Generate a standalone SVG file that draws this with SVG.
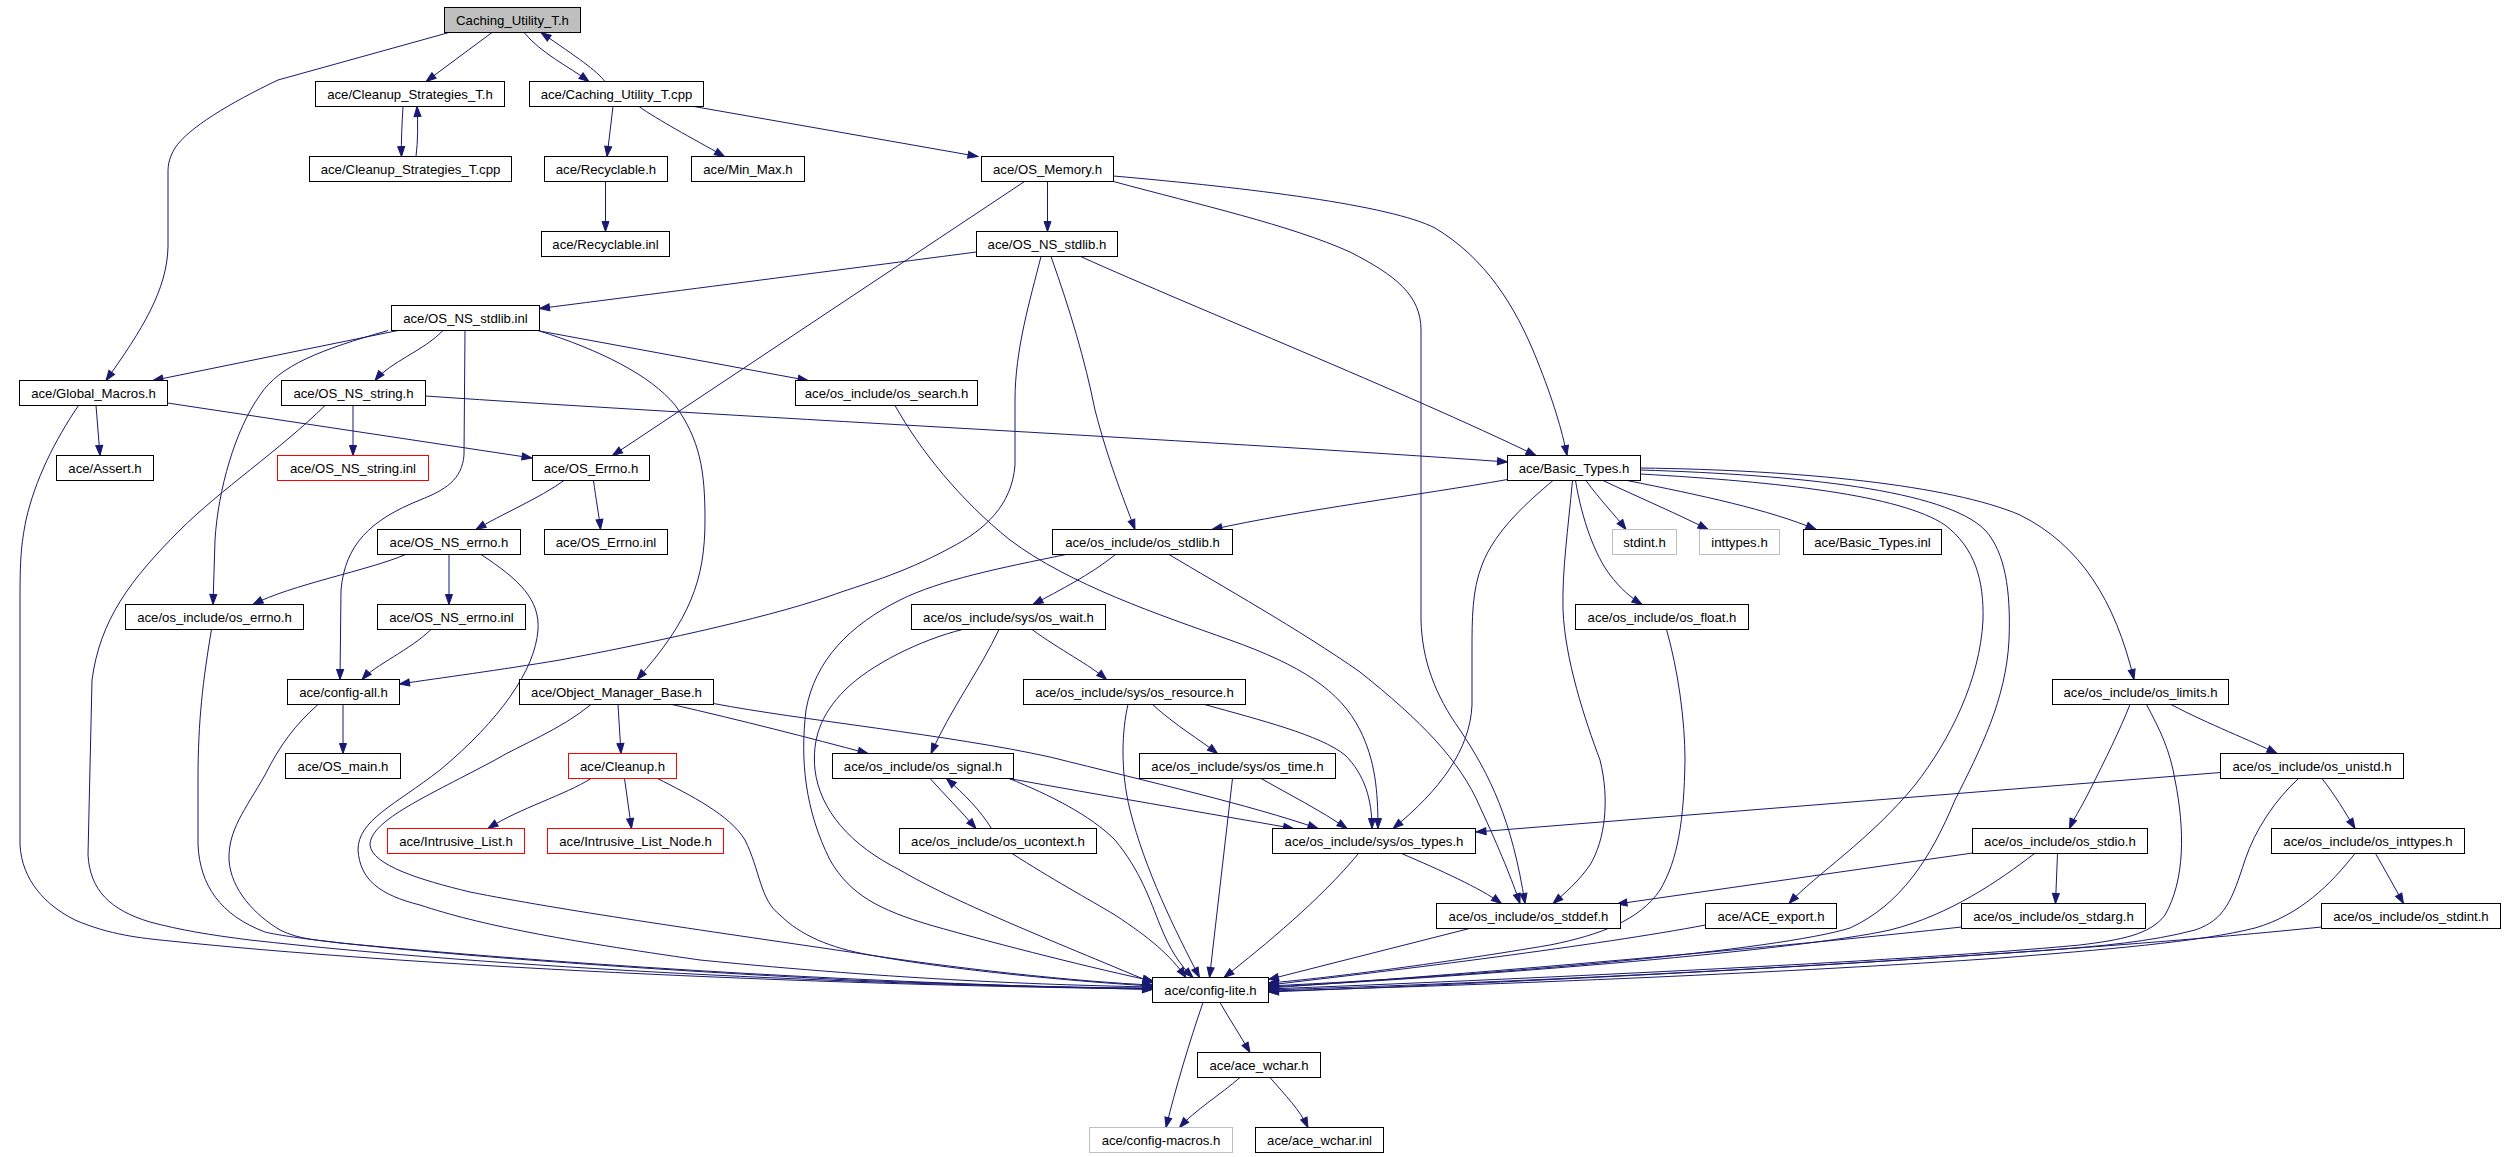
<svg xmlns="http://www.w3.org/2000/svg" width="2505" height="1157" viewBox="0 0 2505 1157">
<defs>
<style>
.node rect{fill:#ffffff;stroke:#000000;stroke-width:1}
.node.root rect{fill:#bfbfbf}
.node.red rect{stroke:#ff0000}
.node.gray rect{stroke:#bfbfbf}
.node text{font-family:"Liberation Sans",Arial,sans-serif;font-size:13.2px;text-anchor:middle;fill:#000000}
#edges path{fill:none;stroke:#191970;stroke-width:1;marker-end:url(#ah)}
</style>
<marker id="ah" viewBox="0 0 10 7" refX="10" refY="3.5" markerWidth="10" markerHeight="7" markerUnits="userSpaceOnUse" orient="auto" overflow="visible">
<path d="M0,0 L10,3.5 L0,7 z" fill="#191970" stroke="#191970" stroke-width="1"/>
</marker>
</defs>
<rect x="0" y="0" width="2505" height="1157" fill="#ffffff"/>
<g id="edges">
<path d="M449,32.5 L278,80 C230,103 188,128 175,148 C169,158 168,165 168,172 L168,247 C167,290 142,330 106,380.5"/>
<path d="M492,32.5 L426,81.5"/>
<path d="M524,32.5 C542,54 568,66 589,81.5"/>
<path d="M605,81.5 C596,70 578,58 541,32.5"/>
<path d="M403,106.5 C402,125 401,140 401.5,156.5"/>
<path d="M416,156.5 C418,140 418,125 417,106.5"/>
<path d="M613,106.5 L607,156.5"/>
<path d="M639,106.5 C658,120 690,137 724.5,156.5"/>
<path d="M694,106.5 L978,156.5"/>
<path d="M605.5,181.5 L605.5,231.5"/>
<path d="M1047.5,181.5 L1047.5,231.5"/>
<path d="M1024.5,181.5 L612.5,455.5"/>
<path d="M1113.5,181.5 C1200,205 1290,225 1350,252 C1395,275 1421,295 1421,330 L1421,620 C1422,660 1435,695 1460,730 C1490,775 1512,820 1525,903.5"/>
<path d="M1113.5,176 C1250,188 1390,205 1435,228 C1485,258 1515,305 1537,360 C1553,400 1562,430 1567,455.5"/>
<path d="M976.5,252 C900,262 700,288 539.5,308.5"/>
<path d="M1041,256.5 C1030,300 1015,350 1015,400 L1015,465 C1012,505 985,530 950,548 C900,575 860,585 830,596 C760,620 640,645 560,660 C500,670 440,678 399.5,684"/>
<path d="M1051,256.5 C1070,310 1085,360 1095,410 C1108,460 1122,495 1135,529.5"/>
<path d="M1080.5,256.5 C1200,310 1400,390 1536,455.5"/>
<path d="M398,330.5 L153,380.5"/>
<path d="M443,330.5 C425,350 390,362 375,380.5"/>
<path d="M388,330.5 C320,350 280,365 260,395 C235,430 218,490 215,540 L213,604.5"/>
<path d="M465,330.5 L464,455 C462,480 445,490 420,500 C370,520 345,545 341,590 L340,679.5"/>
<path d="M538,330.5 C600,350 650,375 675,405 C700,440 705,470 705,520 C705,580 690,620 637,679.5"/>
<path d="M539.5,331 L808,380.5"/>
<path d="M96,405.5 L100,455.5"/>
<path d="M167.5,403 L532,458"/>
<path d="M78.5,405.5 C55,440 35,480 26,520 C21,545 20,560 20,600 L20,845 C22,880 45,905 75,920 C110,935 140,938 170,941 C400,965 800,985 1152.5,989"/>
<path d="M353,405.5 L353,455.5"/>
<path d="M425.5,396 C700,415 1200,440 1507.5,462"/>
<path d="M325,405.5 C280,450 220,490 180,530 C130,580 100,620 92,680 L88,855 C90,890 110,910 150,922 C180,930 210,935 250,940 C500,968 850,985 1152.5,988.5"/>
<path d="M564,480.5 C540,498 500,515 476,529.5"/>
<path d="M593.5,480.5 C596,500 599,515 600.5,529.5"/>
<path d="M405.5,554.5 C370,570 290,585 253,604.5"/>
<path d="M449,554.5 L449,604.5"/>
<path d="M481,554.5 C520,580 540,600 538,630 C535,670 500,720 440,770 C395,805 358,820 358,850 C360,880 380,895 420,905 C480,925 560,940 700,960 C900,980 1050,985 1152.5,987"/>
<path d="M211.5,629.5 C203,680 198,720 198,780 L198,845 C200,885 220,915 265,932 C300,941 500,962 850,980 C1000,986 1100,988 1152.5,988"/>
<path d="M431,629.5 C410,650 375,665 362,679.5"/>
<path d="M343,704.5 L343,753.5"/>
<path d="M318,704.5 C295,725 280,745 265,775 C245,810 228,830 229,860 C231,890 255,915 280,930 C300,940 320,940 340,943 C600,968 900,984 1152.5,989.5"/>
<path d="M618,704.5 L621,753.5"/>
<path d="M672,704.5 C740,720 810,738 868,753.5"/>
<path d="M713.5,703.5 C800,720 950,735 1050,757 C1150,782 1250,805 1318,828.5"/>
<path d="M591,704.5 C560,730 520,745 495,760 C430,795 370,820 370,845 C372,865 420,880 470,892 C560,910 700,930 850,952 C950,968 1080,982 1152.5,985"/>
<path d="M591,778.5 C565,795 520,808 488,828.5"/>
<path d="M624.5,778.5 L631.5,828.5"/>
<path d="M657.5,778.5 C690,795 730,815 745,840 C760,870 760,900 780,915 C800,935 830,948 870,955 C950,970 1080,982 1152.5,986"/>
<path d="M895,405.5 C920,450 960,500 1010,540 C1070,585 1160,615 1230,640 C1300,665 1340,690 1360,730 C1375,760 1378,790 1378,828.5"/>
<path d="M1507.5,479.5 C1420,495 1300,510 1212,529.5"/>
<path d="M1553,480.5 C1530,500 1495,530 1482,565 C1472,590 1472,620 1472,650 L1472,705 C1470,750 1440,790 1393,828.5"/>
<path d="M1572.5,480.5 C1568,530 1562,570 1563,610 C1565,660 1585,720 1600,760 C1610,800 1605,840 1590,865 C1578,882 1565,893 1553,903.5"/>
<path d="M1575.5,480.5 C1582,520 1595,555 1610,575 C1620,588 1630,597 1642,604.5"/>
<path d="M1586,480.5 C1600,500 1615,515 1626,529.5"/>
<path d="M1603,480.5 C1640,498 1680,515 1708,529.5"/>
<path d="M1627,480.5 C1700,495 1770,510 1816,529.5"/>
<path d="M1640.5,468 C1800,470 1950,485 2020,515 C2080,545 2115,600 2134,679.5"/>
<path d="M1640.5,474 C1780,482 1900,495 1945,525 C1975,548 1984,580 1983,620 C1980,680 1950,740 1915,785 C1870,840 1815,875 1789,903.5"/>
<path d="M1640.5,470 C1800,475 1945,490 1985,530 C2005,552 2011,590 2009,640 C2006,700 1980,750 1955,800 C1930,860 1900,905 1850,928 C1780,950 1500,975 1268.5,986"/>
<path d="M1115.5,554.5 C1090,575 1060,590 1033,604.5"/>
<path d="M1066,554.5 C1000,568 940,580 900,600 C850,625 815,660 806,710 C800,760 805,810 830,860 C850,895 880,910 930,925 C1000,945 1100,970 1153,981"/>
<path d="M962.5,629.5 C920,640 870,665 845,690 C820,715 812,740 815,770 C820,810 850,845 900,870 C950,900 1050,940 1153,983"/>
<path d="M999,629.5 C980,670 950,710 931,753.5"/>
<path d="M1032,629.5 C1060,650 1090,665 1106.5,679.5"/>
<path d="M1152.5,704.5 C1175,725 1200,740 1217.5,753.5"/>
<path d="M1204.5,704.5 C1260,720 1320,735 1345,755 C1365,775 1372,800 1372,828.5"/>
<path d="M1128,704.5 C1122,730 1120,770 1130,810 C1145,870 1175,930 1199.5,977.5"/>
<path d="M930,778.5 C945,795 960,810 976,828.5"/>
<path d="M991.5,828.5 C980,810 965,795 946.5,778.5"/>
<path d="M1009,778.5 C1100,795 1200,812 1293.5,828.5"/>
<path d="M1009,778.5 C1050,795 1090,815 1115,840 C1140,870 1150,900 1160,925 C1170,950 1180,965 1193,977.5"/>
<path d="M1261,778.5 C1290,795 1320,810 1347,828.5"/>
<path d="M1232.5,778.5 L1209.5,977.5"/>
<path d="M1012,853.5 C1050,878 1090,900 1115,915 C1150,938 1170,955 1186,977.5"/>
<path d="M1401.5,853.5 C1440,870 1480,888 1501.5,903.5"/>
<path d="M1358.5,853.5 C1320,900 1265,945 1224,977.5"/>
<path d="M1169,554.5 C1220,585 1300,630 1360,672 C1420,720 1460,760 1480,807 C1500,850 1512,880 1520,903.5"/>
<path d="M1469.5,928.5 L1268.5,979.5"/>
<path d="M1666.5,629.5 C1678,670 1685,720 1685,760 C1684,820 1678,860 1660,890 C1640,920 1600,935 1550,945 C1450,962 1330,978 1268.5,983"/>
<path d="M2171,704.5 C2210,725 2250,740 2277,753.5"/>
<path d="M2130,704.5 C2120,730 2105,760 2090,790 C2080,810 2073,820 2069.5,828.5"/>
<path d="M2146.5,704.5 C2160,730 2170,750 2175,780 C2185,830 2185,880 2165,915 C2150,935 2120,940 2080,945 C1900,962 1500,980 1268.5,989"/>
<path d="M2220.5,772.5 L1476,832"/>
<path d="M2322,778.5 C2335,795 2345,812 2355,828.5"/>
<path d="M2298.5,778.5 C2275,800 2255,830 2245,860 C2232,900 2225,920 2195,930 C2150,942 2100,946 2050,950 C1800,968 1500,983 1268.5,990"/>
<path d="M1972.5,853 L1617,904"/>
<path d="M2057.5,853.5 L2055.5,903.5"/>
<path d="M2034.5,853.5 C2000,880 1950,915 1890,930 C1800,950 1500,975 1268.5,987"/>
<path d="M2375.5,853.5 C2385,870 2395,888 2403.5,903.5"/>
<path d="M2355,853.5 C2330,885 2300,915 2255,928 C2200,942 2100,950 2000,958 C1800,972 1500,985 1268.5,991"/>
<path d="M1705.5,925 C1600,945 1400,970 1268.5,985"/>
<path d="M1961.5,927 C1800,945 1500,972 1268.5,988"/>
<path d="M2321.5,927 C2100,950 1700,975 1268.5,992"/>
<path d="M1220,1002.5 C1230,1020 1240,1035 1250,1052.5"/>
<path d="M1203,1002.5 C1190,1040 1175,1090 1166,1127.5"/>
<path d="M1240,1077.5 C1220,1095 1195,1110 1179.5,1127.5"/>
<path d="M1270,1077.5 C1285,1095 1300,1110 1308,1127.5"/>
</g>
<g id="n01" class="node root"><rect x="444.5" y="7.5" width="136" height="25"/><text x="512.5" y="24.5">Caching_Utility_T.h</text></g>
<g id="n02" class="node"><rect x="315.5" y="81.5" width="189" height="25"/><text x="410" y="98.5">ace/Cleanup_Strategies_T.h</text></g>
<g id="n03" class="node"><rect x="529.5" y="81.5" width="174" height="25"/><text x="616.5" y="98.5">ace/Caching_Utility_T.cpp</text></g>
<g id="n04" class="node"><rect x="309.5" y="156.5" width="202" height="25"/><text x="410.5" y="173.5">ace/Cleanup_Strategies_T.cpp</text></g>
<g id="n05" class="node"><rect x="544.5" y="156.5" width="123" height="25"/><text x="606" y="173.5">ace/Recyclable.h</text></g>
<g id="n06" class="node"><rect x="691.5" y="156.5" width="113" height="25"/><text x="748" y="173.5">ace/Min_Max.h</text></g>
<g id="n07" class="node"><rect x="981.5" y="156.5" width="132" height="25"/><text x="1047.5" y="173.5">ace/OS_Memory.h</text></g>
<g id="n08" class="node"><rect x="541.5" y="231.5" width="128" height="25"/><text x="605.5" y="248.5">ace/Recyclable.inl</text></g>
<g id="n09" class="node"><rect x="976.5" y="231.5" width="141" height="25"/><text x="1047" y="248.5">ace/OS_NS_stdlib.h</text></g>
<g id="n10" class="node"><rect x="391.5" y="305.5" width="148" height="25"/><text x="465.5" y="322.5">ace/OS_NS_stdlib.inl</text></g>
<g id="n11" class="node"><rect x="19.5" y="380.5" width="148" height="25"/><text x="93.5" y="397.5">ace/Global_Macros.h</text></g>
<g id="n12" class="node"><rect x="281.5" y="380.5" width="144" height="25"/><text x="353.5" y="397.5">ace/OS_NS_string.h</text></g>
<g id="n13" class="node"><rect x="795.5" y="380.5" width="182" height="25"/><text x="886.5" y="397.5">ace/os_include/os_search.h</text></g>
<g id="n14" class="node"><rect x="1507.5" y="455.5" width="133" height="25"/><text x="1574" y="472.5">ace/Basic_Types.h</text></g>
<g id="n15" class="node"><rect x="56.5" y="455.5" width="97" height="25"/><text x="105" y="472.5">ace/Assert.h</text></g>
<g id="n16" class="node red"><rect x="277.5" y="455.5" width="151" height="25"/><text x="353" y="472.5">ace/OS_NS_string.inl</text></g>
<g id="n17" class="node"><rect x="532.5" y="455.5" width="117" height="25"/><text x="591" y="472.5">ace/OS_Errno.h</text></g>
<g id="n18" class="node"><rect x="377.5" y="529.5" width="143" height="25"/><text x="449" y="546.5">ace/OS_NS_errno.h</text></g>
<g id="n19" class="node"><rect x="544.5" y="529.5" width="123" height="25"/><text x="606" y="546.5">ace/OS_Errno.inl</text></g>
<g id="n20" class="node"><rect x="1052.5" y="529.5" width="180" height="25"/><text x="1142.5" y="546.5">ace/os_include/os_stdlib.h</text></g>
<g id="n21" class="node gray"><rect x="1612.5" y="529.5" width="64" height="25"/><text x="1644.5" y="546.5">stdint.h</text></g>
<g id="n22" class="node gray"><rect x="1699.5" y="529.5" width="80" height="25"/><text x="1739.5" y="546.5">inttypes.h</text></g>
<g id="n23" class="node"><rect x="1803.5" y="529.5" width="138" height="25"/><text x="1872.5" y="546.5">ace/Basic_Types.inl</text></g>
<g id="n24" class="node"><rect x="125.5" y="604.5" width="178" height="25"/><text x="214.5" y="621.5">ace/os_include/os_errno.h</text></g>
<g id="n25" class="node"><rect x="377.5" y="604.5" width="148" height="25"/><text x="451.5" y="621.5">ace/OS_NS_errno.inl</text></g>
<g id="n26" class="node"><rect x="911.5" y="604.5" width="194" height="25"/><text x="1008.5" y="621.5">ace/os_include/sys/os_wait.h</text></g>
<g id="n27" class="node"><rect x="1575.5" y="604.5" width="173" height="25"/><text x="1662" y="621.5">ace/os_include/os_float.h</text></g>
<g id="n28" class="node"><rect x="287.5" y="679.5" width="112" height="25"/><text x="343.5" y="696.5">ace/config-all.h</text></g>
<g id="n29" class="node"><rect x="519.5" y="679.5" width="194" height="25"/><text x="616.5" y="696.5">ace/Object_Manager_Base.h</text></g>
<g id="n30" class="node"><rect x="1023.5" y="679.5" width="222" height="25"/><text x="1134.5" y="696.5">ace/os_include/sys/os_resource.h</text></g>
<g id="n31" class="node"><rect x="2052.5" y="679.5" width="176" height="25"/><text x="2140.5" y="696.5">ace/os_include/os_limits.h</text></g>
<g id="n32" class="node"><rect x="285.5" y="753.5" width="115" height="25"/><text x="343" y="770.5">ace/OS_main.h</text></g>
<g id="n33" class="node red"><rect x="568.5" y="753.5" width="108" height="25"/><text x="622.5" y="770.5">ace/Cleanup.h</text></g>
<g id="n34" class="node"><rect x="832.5" y="753.5" width="181" height="25"/><text x="923" y="770.5">ace/os_include/os_signal.h</text></g>
<g id="n35" class="node"><rect x="1139.5" y="753.5" width="196" height="25"/><text x="1237.5" y="770.5">ace/os_include/sys/os_time.h</text></g>
<g id="n36" class="node"><rect x="2220.5" y="753.5" width="183" height="25"/><text x="2312" y="770.5">ace/os_include/os_unistd.h</text></g>
<g id="n37" class="node red"><rect x="387.5" y="828.5" width="137" height="25"/><text x="456" y="845.5">ace/Intrusive_List.h</text></g>
<g id="n38" class="node red"><rect x="547.5" y="828.5" width="176" height="25"/><text x="635.5" y="845.5">ace/Intrusive_List_Node.h</text></g>
<g id="n39" class="node"><rect x="899.5" y="828.5" width="197" height="25"/><text x="998" y="845.5">ace/os_include/os_ucontext.h</text></g>
<g id="n40" class="node"><rect x="1272.5" y="828.5" width="203" height="25"/><text x="1374" y="845.5">ace/os_include/sys/os_types.h</text></g>
<g id="n41" class="node"><rect x="1972.5" y="828.5" width="175" height="25"/><text x="2060" y="845.5">ace/os_include/os_stdio.h</text></g>
<g id="n42" class="node"><rect x="2271.5" y="828.5" width="193" height="25"/><text x="2368" y="845.5">ace/os_include/os_inttypes.h</text></g>
<g id="n43" class="node"><rect x="1436.5" y="903.5" width="184" height="25"/><text x="1528.5" y="920.5">ace/os_include/os_stddef.h</text></g>
<g id="n44" class="node"><rect x="1705.5" y="903.5" width="131" height="25"/><text x="1771" y="920.5">ace/ACE_export.h</text></g>
<g id="n45" class="node"><rect x="1961.5" y="903.5" width="184" height="25"/><text x="2053.5" y="920.5">ace/os_include/os_stdarg.h</text></g>
<g id="n46" class="node"><rect x="2321.5" y="903.5" width="179" height="25"/><text x="2411" y="920.5">ace/os_include/os_stdint.h</text></g>
<g id="n47" class="node"><rect x="1152.5" y="977.5" width="116" height="25"/><text x="1210.5" y="994.5">ace/config-lite.h</text></g>
<g id="n48" class="node"><rect x="1197.5" y="1052.5" width="123" height="25"/><text x="1259" y="1069.5">ace/ace_wchar.h</text></g>
<g id="n49" class="node gray"><rect x="1089.5" y="1127.5" width="143" height="25"/><text x="1161" y="1144.5">ace/config-macros.h</text></g>
<g id="n50" class="node"><rect x="1255.5" y="1127.5" width="128" height="25"/><text x="1319.5" y="1144.5">ace/ace_wchar.inl</text></g>
</svg>
